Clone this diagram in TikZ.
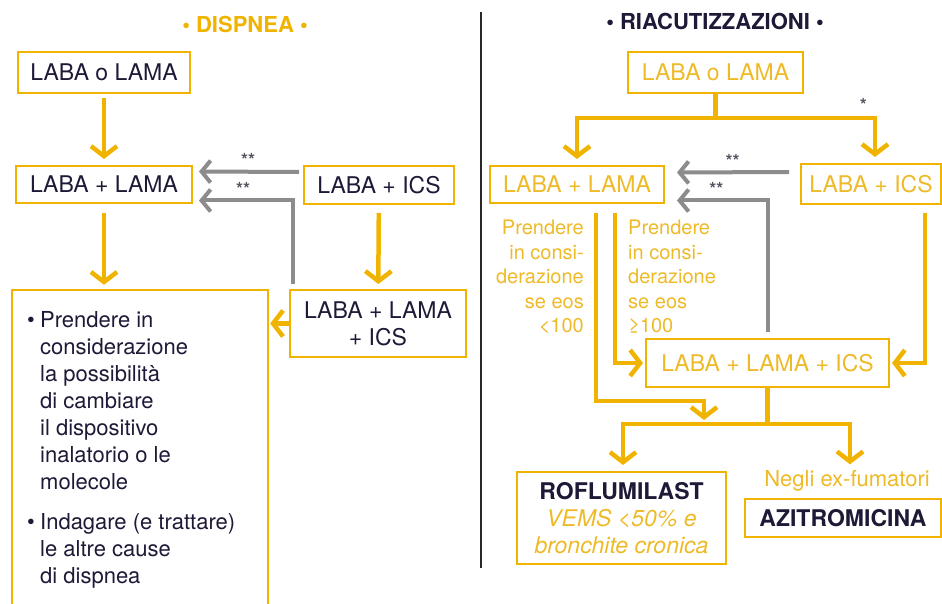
\documentclass[tikz,border=0pt]{standalone}
\usepackage{fontspec}
\setmainfont{TeX Gyre Heros}
\usepackage{tikz}
\usetikzlibrary{arrows.meta,positioning,calc}
\definecolor{dGold}{RGB}{240,180,0}
\definecolor{tGold}{RGB}{238,186,40}
\definecolor{dGray}{RGB}{140,140,140}
\definecolor{dNavy}{RGB}{30,25,55}
\definecolor{dLine}{RGB}{40,40,40}

\begin{document}
\begin{tikzpicture}[x=1pt,y=-1pt,
  st/.style={draw=dGold,line width=2pt,align=center,inner sep=0pt,font=\fontsize{23}{27}\selectfont,text=dNavy},
  gst/.style={st,text=tGold},
  ar/.style={-{Straight Barb[length=10pt,width=26pt]},line width=4.5pt,dGold},
  gr/.style={-{Straight Barb[length=9pt,width=22pt]},line width=4pt,dGray},
  ln/.style={line width=4.5pt,dGold},
  ttl/.style={font=\fontsize{22}{26}\selectfont\bfseries,inner sep=0pt},
  note/.style={font=\fontsize{20}{24.5}\selectfont,text=tGold,inner sep=0pt},
  stars/.style={font=\fontsize{18}{18}\selectfont\bfseries,text=dNavy!50!dGray,inner sep=0pt}]
\useasboundingbox (0,0) rectangle (942,604);
% dispnea
\node[ttl,text=dGold] (t1) at (245,24) {• DISPNEA •};
\node[st,minimum width=172pt,minimum height=41pt] (l1) at (104,72.5) {LABA o LAMA};
\node[st,minimum width=176pt,minimum height=37pt] (l2) at (104,184.5) {LABA + LAMA};
\node[st,minimum width=150pt,minimum height=38pt] (l3) at (379,185) {LABA + ICS};
\node[st,minimum width=176pt,minimum height=67pt] (l4) at (378,323.5) {LABA + LAMA\\+ ICS};
\node[minimum width=256pt,minimum height=316pt,inner sep=0pt] (adv) at (140,448) {};
\draw[dGold,line width=2pt] (adv.south west) -- (adv.north west) -- (adv.north east) -- (adv.south east);
\node[anchor=north west,inner sep=0pt,align=left,text=dNavy,font=\fontsize{22}{27}\selectfont] (advt) at (27,311) {%
\makebox[13pt][l]{•}Prendere in\\\hspace*{13pt}considerazione\\\hspace*{13pt}la possibilità\\\hspace*{13pt}di cambiare\\\hspace*{13pt}il dispositivo\\\hspace*{13pt}inalatorio o le\\\hspace*{13pt}molecole\\[13pt]
\makebox[13pt][l]{•}Indagare (e trattare)\\\hspace*{13pt}le altre cause\\\hspace*{13pt}di dispnea};
\draw[ar,shorten <=4pt,shorten >=6pt] (l1) -- (l2);
\draw[ar,shorten <=9pt,shorten >=5pt] (l2) -- (adv.north -| l2);
\draw[ar,shorten <=8pt,shorten >=5pt] (l3) -- (l4);
\draw[ar,shorten >=2pt] (l4) -- (l4 -| adv.east);
\draw[gr,shorten <=4pt,shorten >=6pt] ([yshift=13pt]l3.west) -- node[stars,above=3pt]{**} ([yshift=13pt]l2.east);
\draw[gr,shorten >=6pt] ([xshift=4pt,yshift=5pt]l4.north west) |- node[stars,pos=0.75,above=3pt]{**} ([yshift=-16pt]l2.east);
% divider
\draw[dLine,line width=1.5pt] (481,12) -- (481,568);
% riacutizzazioni
\node[ttl,text=dNavy] (t2) at (715,21) {• RIACUTIZZAZIONI •};
\node[gst,minimum width=175pt,minimum height=41pt] (r1) at (715.5,72.5) {LABA o LAMA};
\node[gst,minimum width=174pt,minimum height=37pt] (r2) at (577,184.5) {LABA + LAMA};
\node[gst,minimum width=140pt,minimum height=40pt] (r3) at (871,184) {LABA + ICS};
\node[gst,minimum width=243pt,minimum height=48pt] (r5) at (767.5,363) {LABA + LAMA + ICS};
\node[st,minimum width=209pt,minimum height=92pt] (rofl) at (621.5,518) {\textbf{ROFLUMILAST}\\{\color{tGold}\itshape VEMS <50\% e}\\{\color{tGold}\itshape bronchite cronica}};
\node[note,font=\fontsize{22}{26}\selectfont] (negli) at (847,481) {Negli ex-fumatori};
\node[st,minimum width=196pt,minimum height=38pt,font=\fontsize{23}{27}\selectfont\bfseries] (azi) at (843,518) {AZITROMICINA};
\node[note,anchor=north east,align=right] (n1) at (584,220) {Prendere\\in consi-\\derazione\\se eos\\<100};
\node[note,anchor=north west,align=left] (n2) at (628,220) {Prendere\\in consi-\\derazione\\se eos\\≥100};
\coordinate (rs) at ($(r1.south)+(0,24)$);
\coordinate (rj) at (704,420);
\coordinate (bs) at ($(r5.south)+(0,36)$);
\draw[ln] (r1.south) -- (rs);
\draw[ar,shorten >=6pt] (rs) -| (r2.north);
\draw[ar,shorten >=6pt] (rs) -| node[stars,pos=0.5,above left=4pt and 6pt]{*} ([xshift=4pt]r3.north);
\draw[gr,shorten <=11pt,shorten >=12pt] ([yshift=12pt]r3.west) -- node[stars,above=3pt]{**} ([yshift=12pt]r2.east);
\draw[gr,shorten >=12pt] ([yshift=6pt]r5.north) |- node[stars,pos=0.75,above=3pt]{**} ([yshift=-16pt]r2.east);
\draw[ar] ([xshift=19pt,yshift=-9pt]r2.south) -- ++(0,188) -| (rj);
\draw[ar,shorten >=2pt] ([xshift=38pt,yshift=-9pt]r2.south) |- (r5.west);
\draw[ar,shorten >=2pt] ([xshift=54pt,yshift=-8pt]r3.south) |- (r5.east);
\draw[ln] (r5.south) -- (bs);
\draw[ar,shorten >=6pt] (bs) -| ([xshift=1.5pt]rofl.north);
\draw[ar,shorten >=6pt] (bs) -| ([xshift=3pt]negli.north);
\end{tikzpicture}
\end{document}
